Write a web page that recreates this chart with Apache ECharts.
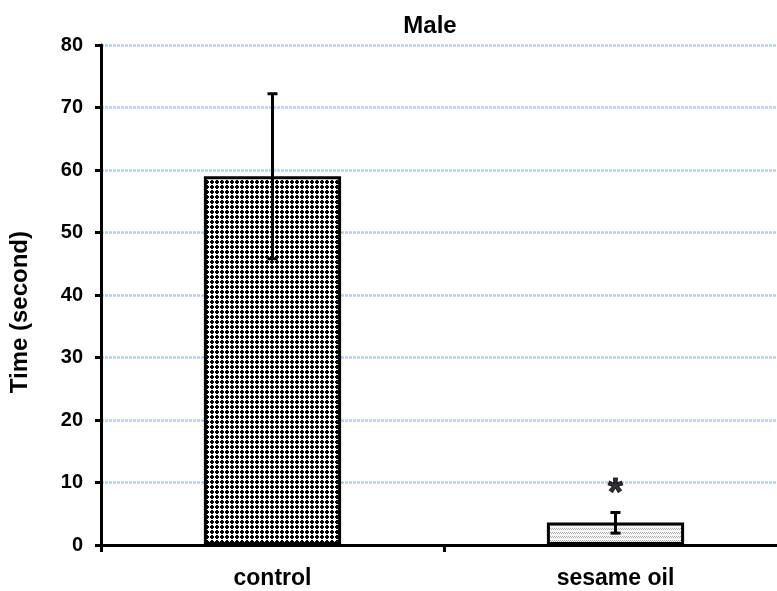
<!DOCTYPE html>
<html>
<head>
<meta charset="utf-8">
<script src="https://cdn.jsdelivr.net/npm/echarts@6/dist/echarts.min.js"></script>
<style>html,body{margin:0;padding:0;background:#fff}#c{width:777px;height:591px}</style>
</head>
<body>
<div id="c"></div>
<script>
var categories = ['control', 'sesame oil'];
var means = [59.0, 3.6];
var errLow = [45.8, 1.9];
var errHigh = [72.2, 5.2];
var sigMarks = ['', '*'];
var sigValues = [null, 9.6];
var yTicks = [0, 10, 20, 30, 40, 50, 60, 70, 80];

function makeDotPattern() {
  var c = document.createElement('canvas');
  c.width = 5; c.height = 5;
  var ctx = c.getContext('2d');
  ctx.fillStyle = '#fff'; ctx.fillRect(0, 0, 5, 5);
  ctx.fillStyle = '#000';
  ctx.fillRect(1, 0, 2, 4);
  ctx.fillRect(0, 1, 4, 2);
  return c;
}
function makeHatchPattern() {
  var c = document.createElement('canvas');
  c.width = 4; c.height = 4;
  var ctx = c.getContext('2d');
  ctx.fillStyle = '#f4f4f4'; ctx.fillRect(0, 0, 4, 4);
  ctx.fillStyle = '#b4b4b4';
  ctx.fillRect(0, 0, 1, 1); ctx.fillRect(1, 1, 1, 1); ctx.fillRect(2, 0, 1, 1); ctx.fillRect(3, 1, 1, 1);
  return c;
}
var patterns = [makeDotPattern(), makeHatchPattern()];

var chart = echarts.init(document.getElementById('c'), null, {renderer: 'canvas'});
var font = 'Liberation Sans, Arial, sans-serif';
chart.setOption({
  animation: false,
  title: {text: 'Male', left: 425, top: 9, textAlign: 'center',
    textStyle: {fontFamily: font, fontSize: 24, fontWeight: 'bold', color: '#000'}},
  grid: {left: 101, width: 686, top: 45, height: 500, outerBoundsMode: 'none', containLabel: false},
  xAxis: {
    type: 'category', data: categories,
    axisLine: {lineStyle: {color: '#000', width: 3}},
    axisTick: {show: true, length: 7, lineStyle: {color: '#000', width: 3}},
    axisLabel: {fontFamily: font, fontSize: 23, fontWeight: 'bold', color: '#000', margin: 22}
  },
  yAxis: {
    type: 'value', min: 0, max: 80, interval: 10,
    axisLine: {show: true, lineStyle: {color: '#000', width: 3}},
    axisTick: {show: true, length: 6, lineStyle: {color: '#000', width: 3}},
    axisLabel: {fontFamily: font, fontSize: 20, fontWeight: 'bold', color: '#000', margin: 18},
    splitLine: {show: true, lineStyle: {color: '#b8cfee', width: 2.5, type: [3, 1]}}
  },
  graphic: [{
    type: 'text', left: 8, top: 231, rotation: Math.PI / 2,
    style: {text: 'Time (second)', font: 'bold 24px Liberation Sans, Arial, sans-serif', fill: '#000'}
  }],
  series: [
    {
      type: 'bar', barWidth: '40%',
      data: means.map(function (v, i) {
        return {value: v, itemStyle: {color: {image: patterns[i], repeat: 'repeat'}, borderColor: '#000', borderWidth: 3}};
      }),
      z: 2
    },
    {
      type: 'custom', z: 5,
      data: categories.map(function (c, i) { return [i, errLow[i], errHigh[i]]; }),
      renderItem: function (params, api) {
        var x = api.coord([api.value(0), 0])[0];
        var lo = api.coord([api.value(0), api.value(1)])[1];
        var hi = api.coord([api.value(0), api.value(2)])[1];
        var hw = 5;
        var st = {stroke: '#000', lineWidth: 3};
        return {type: 'group', children: [
          {type: 'line', shape: {x1: x, y1: lo, x2: x, y2: hi}, style: st},
          {type: 'line', shape: {x1: x - hw, y1: hi, x2: x + hw, y2: hi}, style: st},
          {type: 'line', shape: {x1: x - hw, y1: lo, x2: x + hw, y2: lo}, style: st}
        ]};
      }
    },
    {
      type: 'scatter', symbolSize: 0, z: 6,
      data: sigValues.map(function (v, i) { return v === null ? null : [i, v]; }),
      label: {show: true, position: 'inside', formatter: function (p) { return sigMarks[p.dataIndex]; },
        fontFamily: font, fontSize: 38, fontWeight: 'bold', color: '#000',
        textBorderColor: '#000', textBorderWidth: 1, offset: [0, 10]}
    }
  ]
});
</script>
</body>
</html>
